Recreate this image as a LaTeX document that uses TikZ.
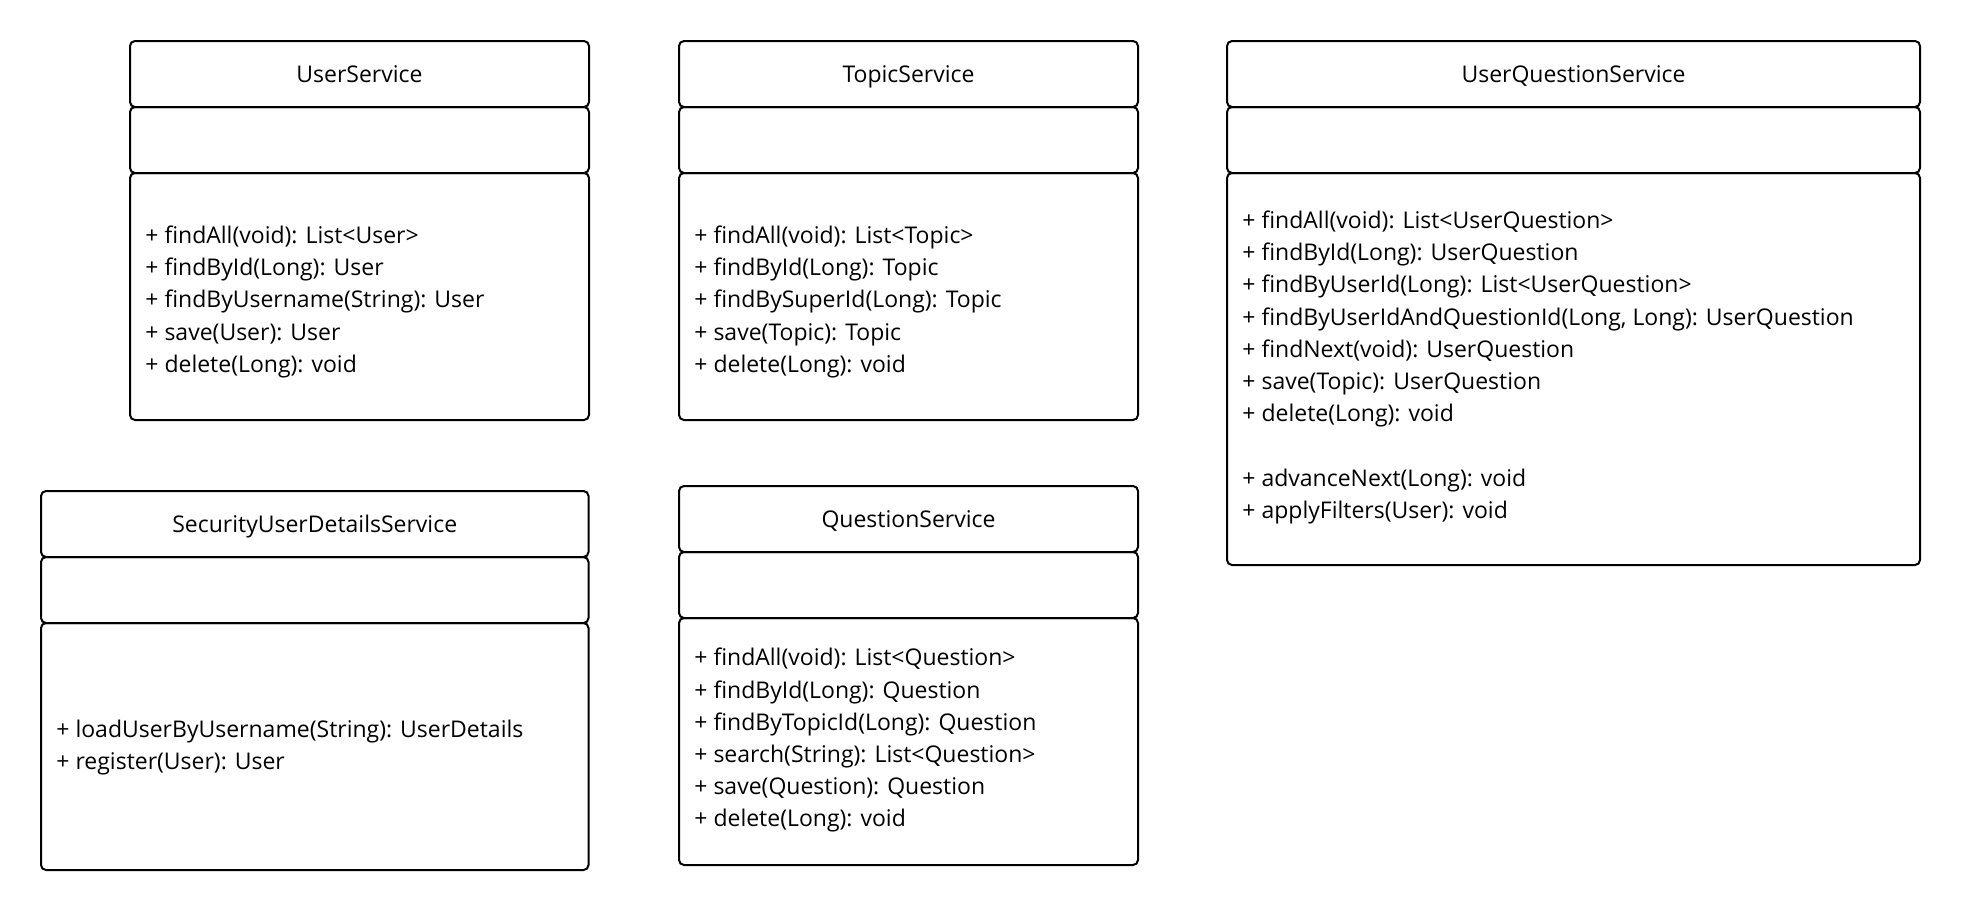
\documentclass[tikz,border=0pt]{standalone}
\usepackage{fontspec}
\setmainfont{Open Sans}
\newcommand{\firstln}{\rule{0pt}{12pt}}
\begin{document}
\begin{tikzpicture}[x=0.5pt,y=-0.5pt,
  comp/.style={draw=black, line width=1pt, rounded corners=2.5pt, anchor=north west, inner sep=0pt, text height=8.2pt, text depth=0pt, font=\fontsize{11.5}{16.1}\selectfont},
  meth/.style={font=\fontsize{11.5}{16.1}\selectfont, align=left, anchor=north west, inner sep=0pt}]
\useasboundingbox (0,0) rectangle (1962,910);

% UserService
\node[comp, minimum width=229.5pt, minimum height=33pt] (us-h) at (129,40) {UserService};
\node[comp, minimum width=229.5pt, minimum height=33pt] (us-a) at (129,106) {};
\node[comp, minimum width=229.5pt, minimum height=123.5pt] (us-c) at (129,172) {};
\node[meth] (us-m) at (145,219) {\firstln+ findAll(void): List<User>\\+ findById(Long): User\\+ findByUsername(String): User\\+ save(User): User\\+ delete(Long): void};

% TopicService
\node[comp, minimum width=229.5pt, minimum height=33pt] (ts-h) at (678,40) {TopicService};
\node[comp, minimum width=229.5pt, minimum height=33pt] (ts-a) at (678,106) {};
\node[comp, minimum width=229.5pt, minimum height=123.5pt] (ts-c) at (678,172) {};
\node[meth] (ts-m) at (694,219) {\firstln+ findAll(void): List<Topic>\\+ findById(Long): Topic\\+ findBySuperId(Long): Topic\\+ save(Topic): Topic\\+ delete(Long): void};

% UserQuestionService
\node[comp, minimum width=346.5pt, minimum height=33pt] (uq-h) at (1226,40) {UserQuestionService};
\node[comp, minimum width=346.5pt, minimum height=33pt] (uq-a) at (1226,106) {};
\node[comp, minimum width=346.5pt, minimum height=196pt] (uq-c) at (1226,172) {};
\node[meth] (uq-m) at (1242,204) {\firstln+ findAll(void): List<UserQuestion>\\+ findById(Long): UserQuestion\\+ findByUserId(Long): List<UserQuestion>\\+ findByUserIdAndQuestionId(Long, Long): UserQuestion\\+ findNext(void): UserQuestion\\+ save(Topic): UserQuestion\\+ delete(Long): void\\[16.1pt]+ advanceNext(Long): void\\+ applyFilters(User): void};

% SecurityUserDetailsService
\node[comp, minimum width=273.75pt, minimum height=33pt] (sd-h) at (40,490) {SecurityUserDetailsService};
\node[comp, minimum width=273.75pt, minimum height=33pt] (sd-a) at (40,556) {};
\node[comp, minimum width=273.75pt, minimum height=123.5pt] (sd-c) at (40,622) {};
\node[meth] (sd-m) at (56,713) {\firstln+ loadUserByUsername(String): UserDetails\\+ register(User): User};

% QuestionService
\node[comp, minimum width=229.5pt, minimum height=33pt] (qs-h) at (678,485) {QuestionService};
\node[comp, minimum width=229.5pt, minimum height=33pt] (qs-a) at (678,551) {};
\node[comp, minimum width=229.5pt, minimum height=123.5pt] (qs-c) at (678,617) {};
\node[meth] (qs-m) at (694,641.5) {\firstln+ findAll(void): List<Question>\\+ findById(Long): Question\\+ findByTopicId(Long): Question\\+ search(String): List<Question>\\+ save(Question): Question\\+ delete(Long): void};
\end{tikzpicture}
\end{document}
